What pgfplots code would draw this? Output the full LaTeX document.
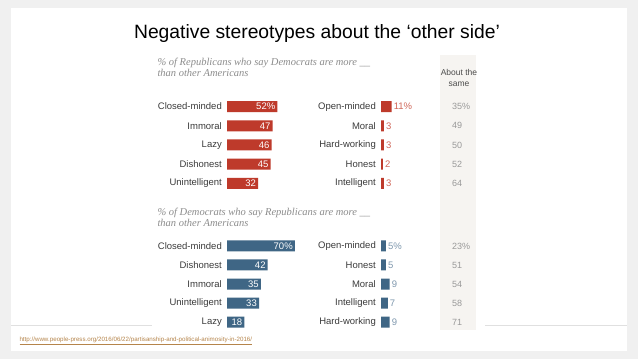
\documentclass[border=0pt]{standalone}
\usepackage{pgfplots}
\pgfplotsset{compat=1.18}
\usepackage{pgfplotstable}
\usepackage{fontspec}
\setmainfont{Liberation Sans}
\newfontfamily\serifit{Liberation Serif}
\definecolor{bggray}{HTML}{F0F0F0}
\definecolor{pewred}{HTML}{BE3A2B}
\definecolor{pewblue}{HTML}{3F6685}
\definecolor{lightred}{HTML}{D0685A}
\definecolor{lightblue}{HTML}{7F98AE}
\definecolor{labgray}{HTML}{3C3C3C}
\definecolor{band}{HTML}{F6F4F1}
\definecolor{urlc}{HTML}{B5844A}

\pgfplotstableread{
y v lab
0 52 52\%
1 47 47
2 46 46
3 45 45
4 32 32
}\repleft
\pgfplotstableread{
y v lab s slab
0 11 11\% 73 35\%
1 3 3 73 49
2 3 3 73 50
3 2 2 73 52
4 3 3 73 64
}\repright
\pgfplotstableread{
y v lab
0 70 70\%
1 42 42
2 35 35
3 33 33
4 18 18
}\demleft
\pgfplotstableread{
y v lab s slab
0 5 5\% 73 23\%
1 5 5 73 51
2 9 9 73 54
3 7 7 73 58
4 9 9 73 71
}\demright

\pgfplotsset{panel/.style={
  scale only axis, width=97pt, height=96pt,
  xmin=0, xmax=100, ymin=-0.5, ymax=4.5, y dir=reverse,
  axis line style={draw=none}, tick style={draw=none},
  xtick=\empty, ytick={0,...,4},
  yticklabel style={font=\fontsize{9.5}{10}\selectfont, text=labgray, inner sep=0pt, xshift=-5pt},
  clip=false,
}}

\begin{document}
\begin{tikzpicture}[x=1pt,y=1pt]
\fill[bggray] (0,0) rectangle (638,359);
\fill[white] (11,8) rectangle (627,351);
\draw[black!12, line width=0.8pt] (11,34) -- (152,34);
\draw[black!12, line width=0.8pt] (485,34) -- (627,34);
\fill[band] (440,29) rectangle (476,304);
\node[font=\fontsize{19.3}{22}\selectfont] at (317,325) {Negative stereotypes about the ‘other side’};
\node[anchor=west, font=\serifit\itshape\fontsize{10.5}{11}\selectfont, text=black!45, align=left] at (154,292) {\% of Republicans who say Democrats are more \_\_\\than other Americans};
\node[anchor=west, font=\serifit\itshape\fontsize{10.5}{11}\selectfont, text=black!45, align=left] at (154,142) {\% of Democrats who say Republicans are more \_\_\\than other Americans};
\node[font=\fontsize{8.5}{11}\selectfont, text=black!70, align=center] at (459,281) {About the\\same};
\node[anchor=west, font=\fontsize{6.2}{7}\selectfont, text=urlc] at (16,18) {\underline{http://www.people-press.org/2016/06/22/partisanship-and-political-animosity-in-2016/}};

% Republicans, left
\begin{axis}[panel, at={(227pt,262pt)}, anchor=north west,
  yticklabels={Closed-minded,Immoral,Lazy,Dishonest,Unintelligent}]
\addplot[xbar, bar width=11pt, fill=pewred, draw=none, nodes near coords,
  nodes near coords style={anchor=east, text=white, font=\fontsize{9.5}{10}\selectfont, inner sep=2pt},
  point meta=explicit symbolic] table[x=v, y=y, meta=lab] {\repleft};
\end{axis}
% Republicans, right
\begin{axis}[panel, at={(381pt,262pt)}, anchor=north west,
  yticklabels={Open-minded,Moral,Hard-working,Honest,Intelligent}]
\addplot[xbar, bar width=11pt, fill=pewred, draw=none, nodes near coords,
  nodes near coords style={anchor=west, text=lightred, font=\fontsize{9.5}{10}\selectfont, inner sep=2pt},
  point meta=explicit symbolic] table[x=v, y=y, meta=lab] {\repright};
\addplot[draw=none, mark=none, nodes near coords,
  nodes near coords style={anchor=west, text=black!40, font=\fontsize{9}{10}\selectfont, inner sep=0pt},
  point meta=explicit symbolic] table[x=s, y=y, meta=slab] {\repright};
\end{axis}
% Democrats, left
\begin{axis}[panel, at={(227pt,122.5pt)}, anchor=north west, height=95pt,
  yticklabels={Closed-minded,Dishonest,Immoral,Unintelligent,Lazy}]
\addplot[xbar, bar width=11pt, fill=pewblue, draw=none, nodes near coords,
  nodes near coords style={anchor=east, text=white, font=\fontsize{9.5}{10}\selectfont, inner sep=2pt},
  point meta=explicit symbolic] table[x=v, y=y, meta=lab] {\demleft};
\end{axis}
% Democrats, right
\begin{axis}[panel, at={(381pt,122.5pt)}, anchor=north west, height=95pt,
  yticklabels={Open-minded,Honest,Moral,Intelligent,Hard-working}]
\addplot[xbar, bar width=11pt, fill=pewblue, draw=none, nodes near coords,
  nodes near coords style={anchor=west, text=lightblue, font=\fontsize{9.5}{10}\selectfont, inner sep=2pt},
  point meta=explicit symbolic] table[x=v, y=y, meta=lab] {\demright};
\addplot[draw=none, mark=none, nodes near coords,
  nodes near coords style={anchor=west, text=black!40, font=\fontsize{9}{10}\selectfont, inner sep=0pt},
  point meta=explicit symbolic] table[x=s, y=y, meta=slab] {\demright};
\end{axis}
\end{tikzpicture}
\end{document}
